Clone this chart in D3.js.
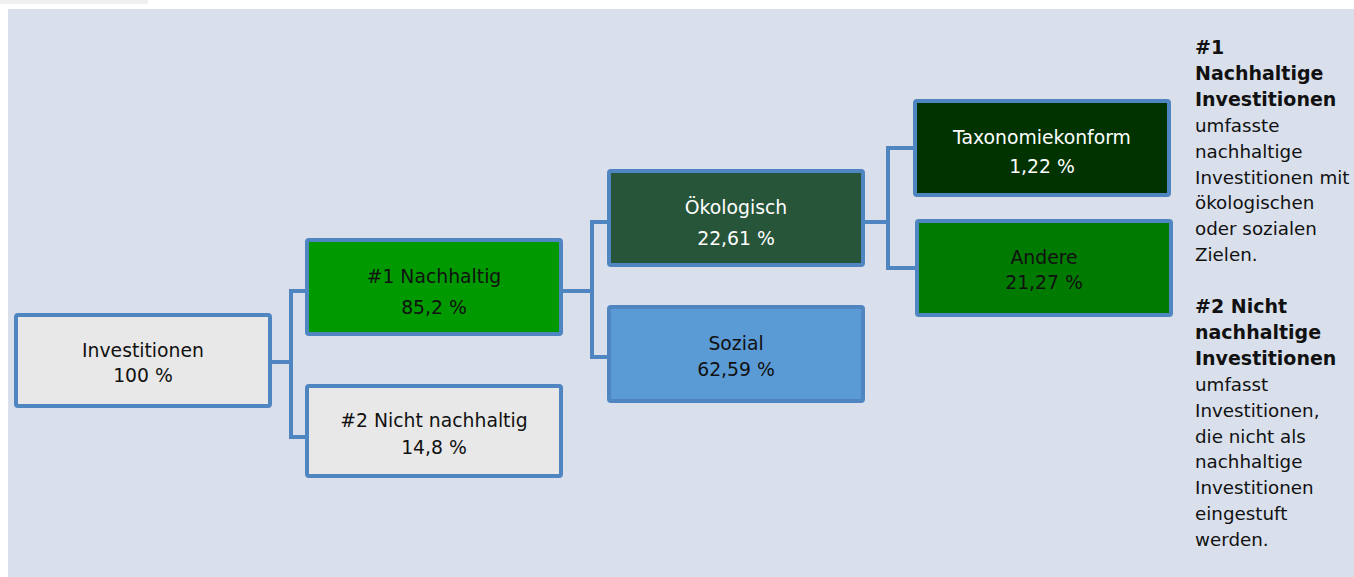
<!DOCTYPE html>
<html>
<head>
<meta charset="utf-8">
<script src="https://cdn.jsdelivr.net/npm/d3@7"></script>
<style>
  html, body { margin: 0; padding: 0; background: #fff; }
  svg { display: block; font-family: "DejaVu Sans", Verdana, sans-serif; }
</style>
</head>
<body>
<svg width="1354" height="577"></svg>
<script>
// node data
const ids = ['inv', 'n1', 'n2', 'oek', 'soz', 'tax', 'and'];
const parents = ['', 'inv', 'inv', 'n1', 'n1', 'oek', 'oek'];
const labels = ['Investitionen', '#1 Nachhaltig', '#2 Nicht nachhaltig', 'Ökologisch', 'Sozial', 'Taxonomiekonform', 'Andere'];
const values = ['100 %', '85,2 %', '14,8 %', '22,61 %', '62,59 %', '1,22 %', '21,27 %'];

// legend text on the right
const legend1Bold = ['#1', 'Nachhaltige', 'Investitionen'];
const legend1Text = ['umfasste', 'nachhaltige', 'Investitionen mit', 'ökologischen', 'oder sozialen', 'Zielen.'];
const legend2Bold = ['#2 Nicht', 'nachhaltige', 'Investitionen'];
const legend2Text = ['umfasst', 'Investitionen,', 'die nicht als', 'nachhaltige', 'Investitionen', 'eingestuft', 'werden.'];

// layout (outer box left/top/height, connector y, gap between text lines)
const layout = {
  inv: { x: 14,  y: 313, h: 95, joinY: 362, gap: 25, fill: '#e8e8e8', text: '#111' },
  n1:  { x: 305, y: 238, h: 98, joinY: 291, gap: 31, fill: '#009900', text: '#111' },
  n2:  { x: 305, y: 384, h: 94, joinY: 437, gap: 27, fill: '#e8e8e8', text: '#111' },
  oek: { x: 607, y: 169, h: 98, joinY: 222, gap: 31, fill: '#27553a', text: '#fff' },
  soz: { x: 607, y: 305, h: 98, joinY: 357, gap: 26, fill: '#5b9bd5', text: '#111' },
  tax: { x: 913, y: 99,  h: 98, joinY: 148, gap: 29, fill: '#003300', text: '#fff' },
  and: { x: 915, y: 219, h: 98, joinY: 268, gap: 25, fill: '#007a00', text: '#111' }
};
const boxW = 258;
const sw = 4;
const blue = '#4f85c0';

const svg = d3.select('svg');

svg.append('rect').attr('x', 0).attr('y', 0).attr('width', 148).attr('height', 4).attr('fill', '#f0f0f0');
svg.append('rect').attr('x', 8).attr('y', 9).attr('width', 1346).attr('height', 568).attr('fill', '#d9e0ec');

const root = d3.stratify()
  .id((d, i) => ids[i])
  .parentId((d, i) => parents[i] || null)(ids.map((id, i) => ({ id, label: labels[i], value: values[i] })));

const nodes = root.descendants();
nodes.forEach(n => {
  const l = layout[n.id];
  n.bx = l.x; n.by = l.y; n.bh = l.h;
  n.cy = l.y + l.h / 2;
});

// elbow connectors
const elbow = { inv: 19, n1: 29, oek: 23 };
const links = root.links();
svg.append('g')
  .selectAll('path')
  .data(links)
  .join('path')
  .attr('fill', 'none')
  .attr('stroke', blue)
  .attr('stroke-width', sw)
  .attr('d', d => {
    const s = d.source, t = d.target;
    const x0 = s.bx + boxW, y0 = layout[s.id].joinY;
    const xm = x0 + elbow[s.id];
    const y1 = layout[t.id].joinY;
    return `M${x0},${y0}H${xm}V${y1}H${t.bx}`;
  });

const g = svg.append('g')
  .selectAll('g')
  .data(nodes)
  .join('g');

g.append('rect')
  .attr('x', d => d.bx + sw / 2)
  .attr('y', d => d.by + sw / 2)
  .attr('width', boxW - sw)
  .attr('height', d => d.bh - sw)
  .attr('rx', 2)
  .attr('fill', d => layout[d.id].fill)
  .attr('stroke', blue)
  .attr('stroke-width', sw);

g.append('text')
  .attr('x', d => d.bx + boxW / 2)
  .attr('y', d => d.cy - 4)
  .attr('text-anchor', 'middle')
  .attr('font-size', 18.8)
  .attr('fill', d => layout[d.id].text)
  .text(d => d.data.label);

g.append('text')
  .attr('x', d => d.bx + boxW / 2)
  .attr('y', d => d.cy - 4 + layout[d.id].gap)
  .attr('text-anchor', 'middle')
  .attr('font-size', 18.8)
  .attr('fill', d => layout[d.id].text)
  .text(d => d.data.value);

// right side notes
function note(bold, text, y0) {
  const lines = bold.map(t => ({ t, b: true })).concat(text.map(t => ({ t, b: false })));
  svg.append('g')
    .selectAll('text')
    .data(lines)
    .join('text')
    .attr('x', 1195)
    .attr('y', (d, i) => y0 + i * 25.9)
    .attr('font-size', d => d.b ? 19 : 18.3)
    .attr('font-weight', d => d.b ? 'bold' : 'normal')
    .attr('fill', '#111')
    .text(d => d.t);
}
note(legend1Bold, legend1Text, 54);
note(legend2Bold, legend2Text, 313);
</script>
</body>
</html>
